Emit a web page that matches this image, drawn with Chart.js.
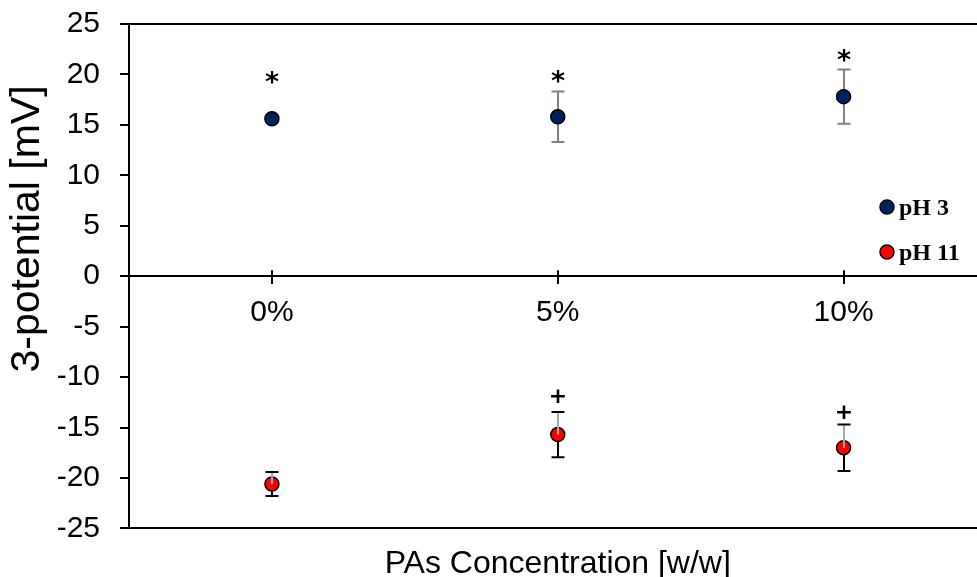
<!DOCTYPE html>
<html>
<head>
<meta charset="utf-8">
<script src="https://cdn.jsdelivr.net/npm/chart.js@4.4.0/dist/chart.umd.min.js"></script>
<style>
  html, body { margin: 0; padding: 0; background: #fff; overflow: hidden; }
</style>
</head>
<body>
<canvas id="zeta" width="995" height="577"></canvas>
<script>
// zeta potential vs. PAs concentration, two pH series
const concentrations = ['0%', '5%', '10%'];
const seriesNames = ['pH 3', 'pH 11'];
const ph3Values = [15.6, 15.8, 17.8];
const ph3Errors = [0.3, 2.5, 2.7];
const ph11Values = [-20.6, -15.7, -17.0];
const ph11Errors = [1.2, 2.25, 2.3];
// significance marks and the value they sit at
const ph3Marks = ['*', '*', '*'];
const ph3MarkY = [19.7, 19.8, 21.9];
const ph11Marks = ['', '+', '+'];
const ph11MarkY = [null, -11.9, -13.5];

const SANS = '"Liberation Sans", Arial, sans-serif';
const SERIF = '"Liberation Serif", "Times New Roman", serif';
const MARK_FONT = '"DejaVu Sans", sans-serif';
const NAVY = '#002060';
const RED = '#ff0000';

function toPoints(vals) {
  return vals.map((v, i) => ({ x: i, y: v }));
}

function drawErrors(chart, dsIndex, errors, stemColor, capColor) {
  const ctx = chart.ctx;
  const xs = chart.scales.x, ys = chart.scales.y;
  ctx.save();
  ctx.lineWidth = 2;
  chart.data.datasets[dsIndex].data.forEach((p, i) => {
    const px = Math.round(xs.getPixelForValue(p.x));
    const top = ys.getPixelForValue(p.y + errors[i]);
    const bot = ys.getPixelForValue(p.y - errors[i]);
    ctx.strokeStyle = stemColor;
    ctx.beginPath();
    ctx.moveTo(px, top);
    ctx.lineTo(px, bot);
    ctx.stroke();
    ctx.strokeStyle = capColor;
    ctx.beginPath();
    ctx.moveTo(px - 6.5, top); ctx.lineTo(px + 6.5, top);
    ctx.moveTo(px - 6.5, bot); ctx.lineTo(px + 6.5, bot);
    ctx.stroke();
  });
  ctx.restore();
}

function drawMarks(chart, marks, ys, size) {
  const ctx = chart.ctx;
  ctx.save();
  ctx.fillStyle = '#000';
  ctx.font = 'bold ' + size + 'px ' + MARK_FONT;
  ctx.textAlign = 'center';
  ctx.textBaseline = 'alphabetic';
  marks.forEach((m, i) => {
    if (!m) return;
    const m2 = ctx.measureText(m);
    const px = Math.round(chart.scales.x.getPixelForValue(i));
    const py = chart.scales.y.getPixelForValue(ys[i]);
    // centre the glyph itself on the value
    const off = (m2.actualBoundingBoxAscent - m2.actualBoundingBoxDescent) / 2;
    ctx.fillText(m, px, py + off);
  });
  ctx.restore();
}

const extras = {
  id: 'extras',
  beforeDatasetsDraw(chart) {
    const ctx = chart.ctx;
    // tick marks at the zero line also poke above it
    const y0 = chart.scales.y.getPixelForValue(0);
    ctx.save();
    ctx.strokeStyle = '#000';
    ctx.lineWidth = 2;
    concentrations.forEach((c, i) => {
      const px = Math.round(chart.scales.x.getPixelForValue(i));
      ctx.beginPath();
      ctx.moveTo(px, y0 - 6);
      ctx.lineTo(px, y0);
      ctx.stroke();
    });
    ctx.restore();
    drawErrors(chart, 0, ph3Errors, '#808080', '#808080');
    drawErrors(chart, 1, ph11Errors, '#000', '#000');
  },
  afterDatasetsDraw(chart) {
    const ctx = chart.ctx;
    const xs = chart.scales.x, ys = chart.scales.y;
    // upper half of the pH 11 bars shows grey over the marker
    ctx.save();
    ctx.strokeStyle = '#a6a6a6';
    ctx.lineWidth = 2;
    chart.data.datasets[1].data.forEach((p, i) => {
      const px = Math.round(xs.getPixelForValue(p.x));
      ctx.beginPath();
      ctx.moveTo(px, ys.getPixelForValue(p.y + ph11Errors[i]) + 1);
      ctx.lineTo(px, ys.getPixelForValue(p.y));
      ctx.stroke();
    });
    ctx.restore();

    drawMarks(chart, ph3Marks, ph3MarkY, 27);
    drawMarks(chart, ph11Marks, ph11MarkY, 22);

    // legend inside the plot, right side
    ctx.save();
    chart.data.datasets.forEach((ds, i) => {
      const cy = 207 + i * 45;
      ctx.beginPath();
      ctx.arc(887, cy, 7, 0, Math.PI * 2);
      ctx.fillStyle = ds.backgroundColor;
      ctx.fill();
      ctx.lineWidth = 1.5;
      ctx.strokeStyle = '#000';
      ctx.stroke();
      ctx.fillStyle = '#000';
      ctx.font = 'bold 24px ' + SERIF;
      ctx.textAlign = 'left';
      ctx.textBaseline = 'middle';
      ctx.fillText(ds.label, 899, cy + 2);
    });
    ctx.restore();

    // y axis title
    ctx.save();
    ctx.translate(28, 229);
    ctx.rotate(-Math.PI / 2);
    ctx.fillStyle = '#000';
    ctx.font = '41px ' + SANS;
    ctx.textAlign = 'center';
    ctx.textBaseline = 'middle';
    ctx.fillText('3-potential [mV]', 0, 0);
    ctx.restore();
  }
};

new Chart(document.getElementById('zeta'), {
  type: 'scatter',
  data: {
    datasets: [{
      label: seriesNames[0],
      data: toPoints(ph3Values),
      backgroundColor: NAVY,
      borderColor: '#000',
      borderWidth: 1.5,
      pointRadius: 7,
      pointHoverRadius: 7
    }, {
      label: seriesNames[1],
      data: toPoints(ph11Values),
      backgroundColor: RED,
      borderColor: '#000',
      borderWidth: 1.5,
      pointRadius: 7,
      pointHoverRadius: 7
    }]
  },
  options: {
    responsive: false,
    animation: false,
    layout: { padding: { top: 24, right: 3, left: 0, bottom: 0 } },
    plugins: {
      legend: { display: false },
      tooltip: { enabled: false }
    },
    scales: {
      x: {
        type: 'linear',
        position: 'bottom',
        min: -0.5,
        max: 2.5,
        afterFit(scale) { scale.paddingLeft = 0; scale.paddingRight = 0; },
        ticks: { display: false },
        grid: { display: false, drawTicks: false },
        border: { color: '#000', width: 2 },
        title: {
          display: true,
          text: 'PAs Concentration [w/w]',
          color: '#000',
          font: { family: SANS, size: 32, lineHeight: 0.8 },
          padding: { top: 23, bottom: 0 }
        }
      },
      xTop: {
        type: 'linear',
        position: 'top',
        min: -0.5,
        max: 2.5,
        afterFit(scale) { scale.paddingLeft = 0; scale.paddingRight = 0; },
        ticks: { display: false },
        grid: { display: false, drawTicks: false },
        border: { color: '#000', width: 2 }
      },
      xZero: {
        type: 'linear',
        axis: 'x',
        position: { y: 0 },
        min: -0.5,
        max: 2.5,
        afterBuildTicks(scale) {
          scale.ticks = concentrations.map((c, i) => ({ value: i }));
        },
        afterFit(scale) {
          scale.height = 0;
          scale.paddingLeft = 0;
          scale.paddingRight = 0;
        },
        ticks: {
          padding: 12,
          color: '#000',
          font: { family: SANS, size: 30 },
          callback: v => concentrations[v]
        },
        grid: { drawOnChartArea: false, tickLength: 7, color: '#000', lineWidth: 2 },
        border: { color: '#000', width: 2 }
      },
      y: {
        min: -25,
        max: 25,
        afterFit(scale) {
          scale.width = 129;
          scale.paddingTop = 0;
          scale.paddingBottom = 0;
        },
        ticks: {
          stepSize: 5,
          padding: 20,
          color: '#000',
          font: { family: SANS, size: 30 }
        },
        grid: { drawOnChartArea: false, tickLength: 9, color: '#000', lineWidth: 2 },
        border: { color: '#000', width: 2 }
      }
    }
  },
  plugins: [extras]
});
</script>
</body>
</html>
